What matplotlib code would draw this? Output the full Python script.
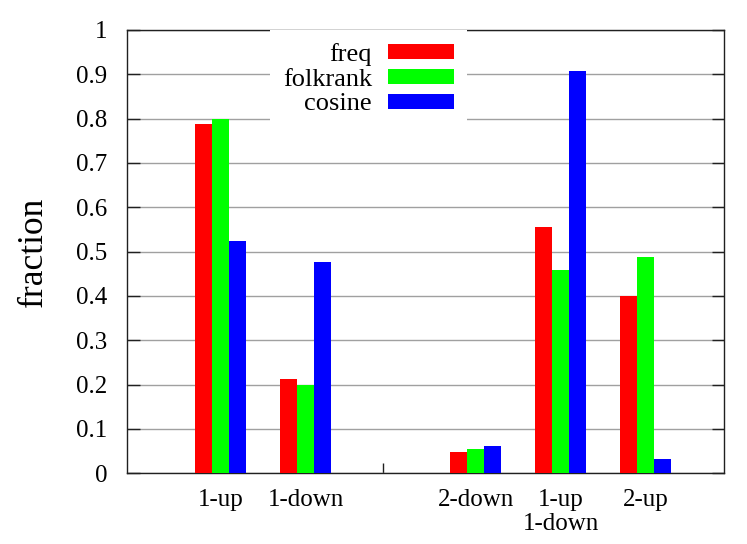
import matplotlib
matplotlib.use("Agg")
import matplotlib.pyplot as plt
from matplotlib.patches import Patch
import numpy as np

categories = ["1-up", "1-down", "2-down", "1-up\n1-down", "2-up"]
positions = [0, 1, 3, 4, 5]
freq = [0.789, 0.213, 0.047, 0.556, 0.399]
folkrank = [0.800, 0.200, 0.055, 0.459, 0.488]
cosine = [0.524, 0.477, 0.062, 0.907, 0.032]
series_names = ["freq", "folkrank", "cosine"]
series_colors = ["#ff0000", "#00ff00", "#0000ff"]
yticks = [0, 0.1, 0.2, 0.3, 0.4, 0.5, 0.6, 0.7, 0.8, 0.9, 1]
ytick_labels = ["0", "0.1", "0.2", "0.3", "0.4", "0.5", "0.6", "0.7", "0.8", "0.9", "1"]

plt.rcParams['font.family'] = ['Liberation Serif', 'DejaVu Serif']

fig = plt.figure(figsize=(7.47, 5.44), dpi=100)
ax = fig.add_axes([127/747, 1 - 473.3/544, 597/747, 443.3/544])

width = 0.2
pos = np.array(positions, dtype=float)
for i, (vals, name, col) in enumerate(zip([freq, folkrank, cosine], series_names, series_colors)):
    ax.bar(pos + (i - 1) * width, vals, width=width, color=col, edgecolor='none',
           zorder=3, label=name)

ax.set_xlim(-1.102, 5.921)
ax.set_ylim(0, 1)
ax.set_yticks(yticks)
ax.set_yticklabels(ytick_labels)
ax.set_xticks(positions)
ax.set_xticklabels(categories, linespacing=1.15)
ax.tick_params(axis='x', length=0, pad=11, labelsize=18)
ax.set_xticks([1.91], minor=True)
ax.tick_params(axis='x', which='minor', direction='in', length=7, width=1, color='#202020')
ax.tick_params(axis='y', direction='in', length=9, width=1, color='#202020',
               right=True, labelsize=18, pad=14)

ax.yaxis.grid(True, color='#a0a0a0', linewidth=1.0, zorder=0)
ax.set_axisbelow(True)
for s in ax.spines.values():
    s.set_color('#202020')
    s.set_linewidth(1.0)

ax.set_ylabel("fraction", fontsize=25.5, labelpad=19)

handles = [Patch(facecolor=c, edgecolor='none') for c in series_colors]
leg = ax.legend(handles, series_names, loc='upper right',
                bbox_to_anchor=((467 - 127) / 597, 1.0), markerfirst=False,
                fontsize=19, frameon=True, fancybox=False, framealpha=1,
                facecolor='white', edgecolor='none', handlelength=2.5,
                handleheight=0.5, handletextpad=0.6, labelspacing=0.1,
                borderpad=0.5, borderaxespad=0.0)
leg.set_zorder(5)

fig.savefig("out.png", dpi=100)
